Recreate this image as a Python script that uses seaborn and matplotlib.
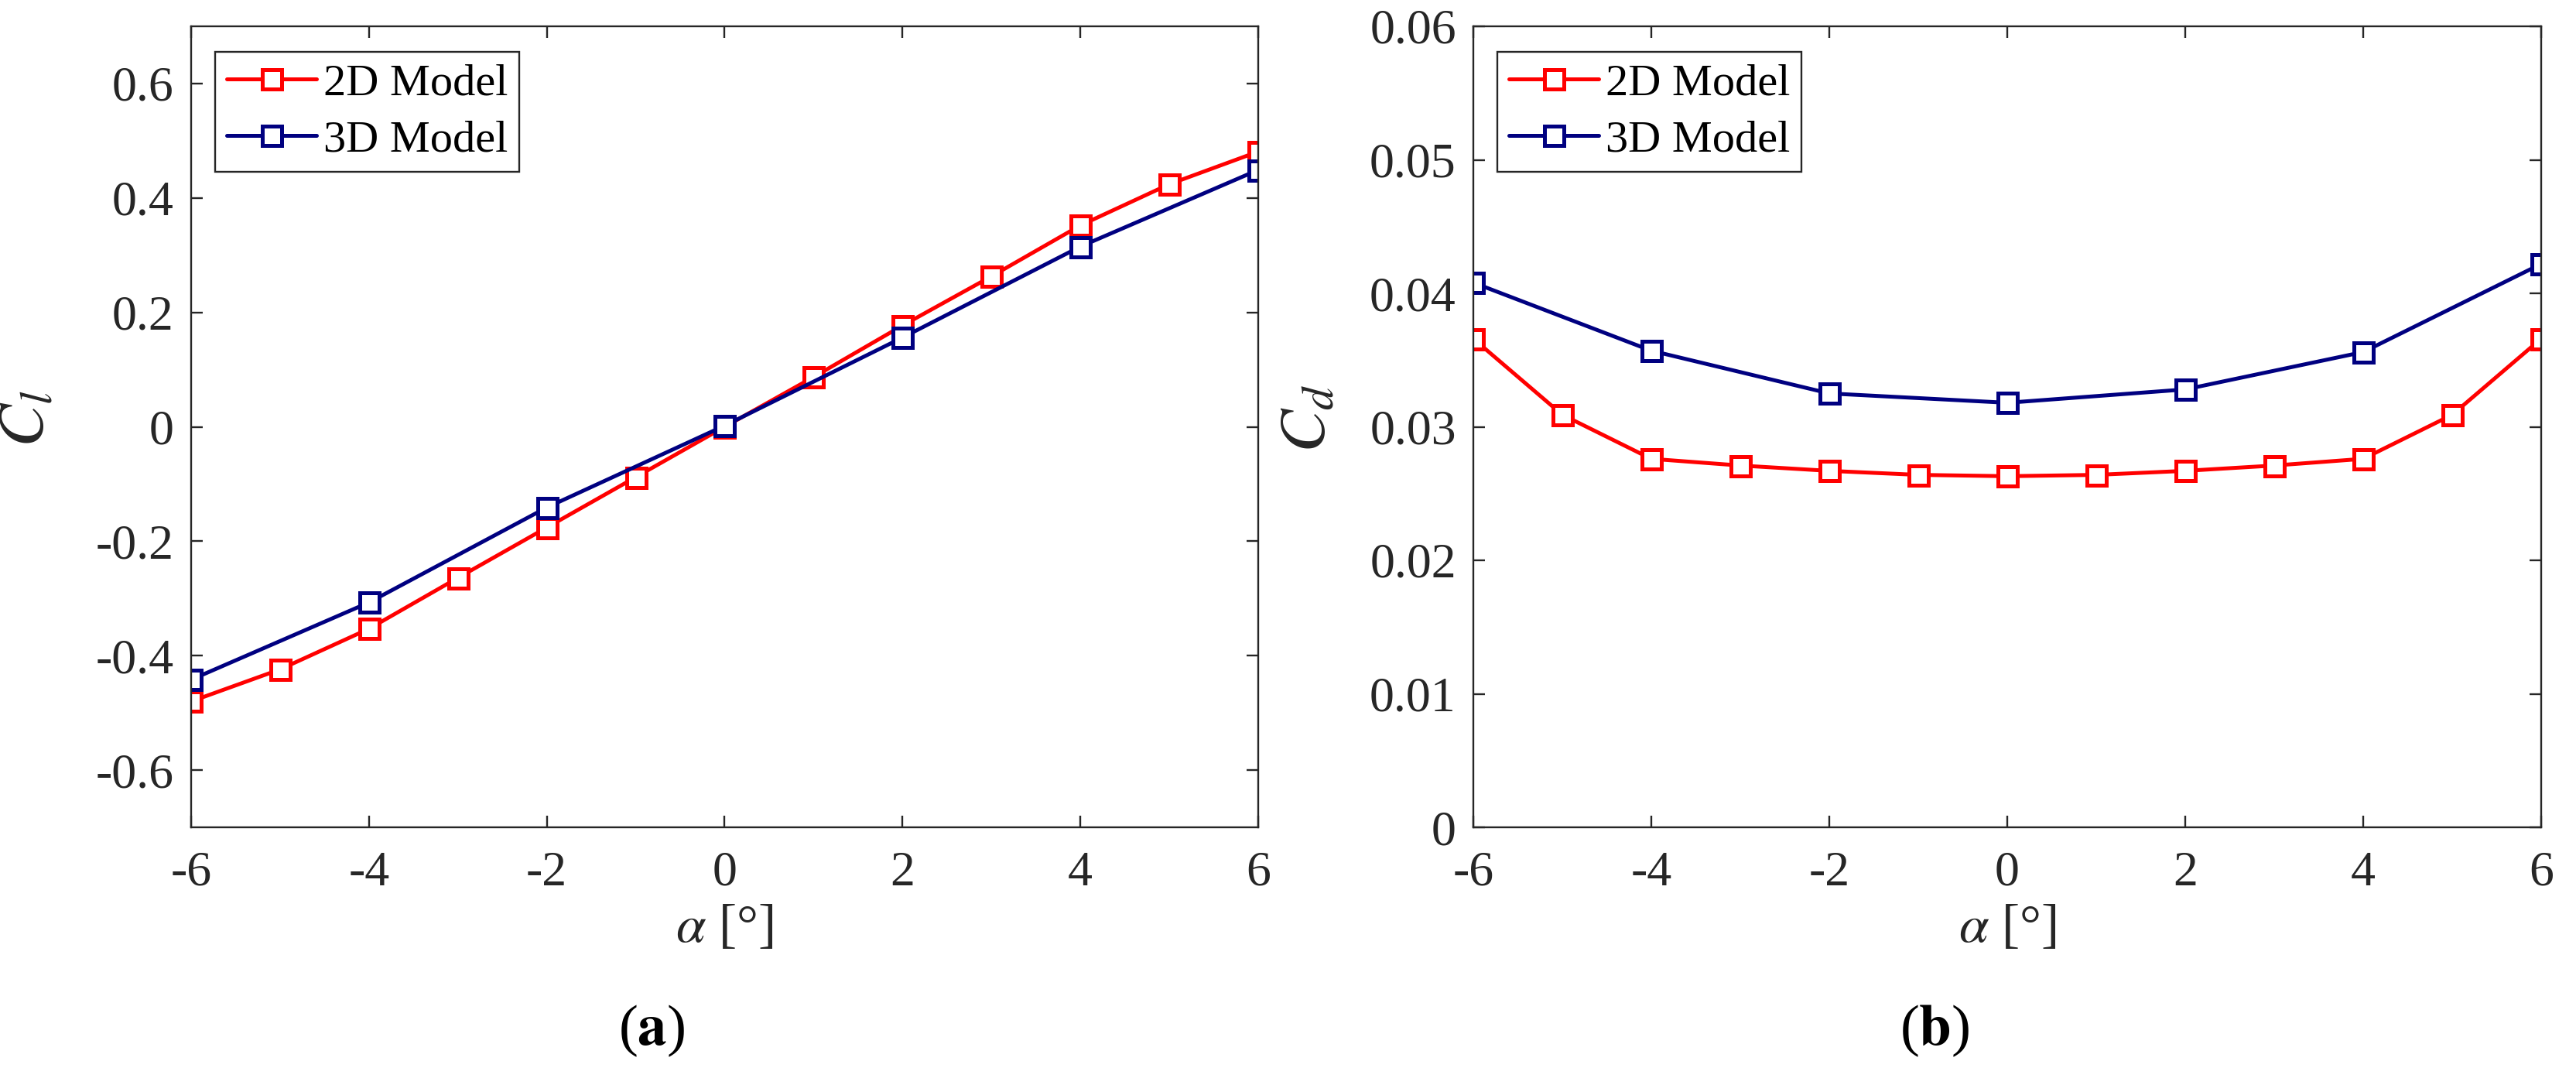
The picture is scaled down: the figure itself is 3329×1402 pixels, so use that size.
import numpy as np
import pandas as pd
import matplotlib
matplotlib.use("Agg")
import matplotlib.pyplot as plt
import seaborn as sns
from matplotlib.ticker import FuncFormatter

# ---------------- data ----------------
alpha_2d = [-6, -5, -4, -3, -2, -1, 0, 1, 2, 3, 4, 5, 6]
cl_2d = [-0.480, -0.424, -0.353, -0.264, -0.176, -0.088, 0.000, 0.087, 0.177, 0.263, 0.352, 0.424, 0.481]
cd_2d = [0.0366, 0.0309, 0.0276, 0.0271, 0.0267, 0.0264, 0.0263, 0.0264, 0.0267, 0.0271, 0.0276, 0.0309, 0.0366]

alpha_3d = [-6, -4, -2, 0, 2, 4, 6]
cl_3d = [-0.442, -0.307, -0.141, 0.002, 0.156, 0.315, 0.449]
cd_3d = [0.0408, 0.0357, 0.0325, 0.0318, 0.0328, 0.0356, 0.0422]

series_names = ["2D Model", "3D Model"]
series_colors = ["#FF0000", "#000080"]

x_ticks = [-6, -4, -2, 0, 2, 4, 6]
cl_ticks = [-0.6, -0.4, -0.2, 0, 0.2, 0.4, 0.6]
cd_ticks = [0, 0.01, 0.02, 0.03, 0.04, 0.05, 0.06]
captions = ["(a)", "(b)"]

# ---------------- style ----------------
sns.set_theme(style="white")
plt.rcParams["font.family"] = ["Liberation Serif", "DejaVu Serif"]
plt.rcParams["mathtext.fontset"] = "stix"
plt.rcParams["axes.unicode_minus"] = False

AX_COLOR = "#262626"

df2 = pd.DataFrame({"alpha": alpha_2d, "Cl": cl_2d, "Cd": cd_2d, "model": series_names[0]})
df3 = pd.DataFrame({"alpha": alpha_3d, "Cl": cl_3d, "Cd": cd_3d, "model": series_names[1]})

fig = plt.figure(figsize=(3329 / 200, 1402 / 200), dpi=200)
W, H = 3329, 1402
ax1 = fig.add_axes([247 / W, 1 - 1069 / H, 1379 / W, 1035 / H])
ax2 = fig.add_axes([1904 / W, 1 - 1069 / H, 1380 / W, 1035 / H])


def draw(ax, ycol, ylim, yticks, ylabel):
    for df, name, col in zip([df2, df3], series_names, series_colors):
        sns.lineplot(data=df, x="alpha", y=ycol, ax=ax, color=col, label=name,
                     marker="s", markersize=9, markerfacecolor="white",
                     markeredgecolor=col, markeredgewidth=1.8, linewidth=1.8,
                     errorbar=None, sort=False)
    ax.set_xlim(-6, 6)
    ax.set_ylim(*ylim)
    ax.set_xticks(x_ticks)
    ax.set_yticks(yticks)
    ax.xaxis.set_major_formatter(FuncFormatter(lambda v, p: "{:g}".format(v)))
    ax.yaxis.set_major_formatter(FuncFormatter(lambda v, p: "{:g}".format(round(v, 4))))
    for sp in ax.spines.values():
        sp.set_visible(True)
        sp.set_color(AX_COLOR)
        sp.set_linewidth(0.85)
    ax.tick_params(axis="both", which="major", direction="in", length=5.4, width=0.85,
                   color=AX_COLOR, labelcolor=AX_COLOR, labelsize=23,
                   top=True, right=True, bottom=True, left=True)
    ax.tick_params(axis="x", pad=11)
    ax.tick_params(axis="y", pad=8)
    ax.set_xlabel(r"$\alpha$ [°]", fontsize=25, color=AX_COLOR, labelpad=4)
    ax.set_ylabel(ylabel, fontsize=30, color=AX_COLOR)
    ax.yaxis.set_label_coords(-0.1255, 0.51)
    ax.grid(False)
    leg = ax.legend(loc="upper left", bbox_to_anchor=(0.0225, 0.968), borderaxespad=0,
                    fancybox=False, framealpha=1, edgecolor=AX_COLOR, fontsize=21,
                    handlelength=2.0, handletextpad=0.15, borderpad=0.25,
                    labelspacing=0.35)
    leg.get_frame().set_linewidth(0.85)
    for t in leg.get_texts():
        t.set_color("black")


draw(ax1, "Cl", (-0.7, 0.7), cl_ticks, r"$C_l$")
draw(ax2, "Cd", (0, 0.06), cd_ticks, r"$C_d$")

fig.text(842 / W, 1 - 1332 / H, r"($\mathbf{a}$)", ha="center", va="center", fontsize=27, color="black")
fig.text(2500 / W, 1 - 1332 / H, r"($\mathbf{b}$)", ha="center", va="center", fontsize=27, color="black")

fig.savefig("out.png", dpi=200)
